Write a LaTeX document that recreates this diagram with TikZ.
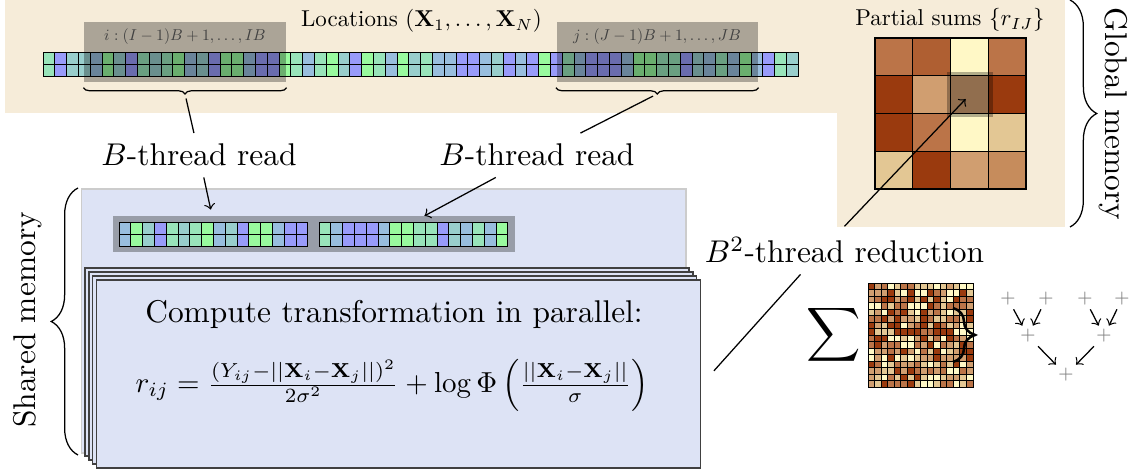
\documentclass[tikz,border=0pt]{standalone}
\usepackage{fix-cm}
\usepackage{amsmath}
\usepackage{amssymb}
\usetikzlibrary{arrows, decorations.pathreplacing, fit}

\definecolor{paper}{RGB}{246,236,217}
\definecolor{shmem}{RGB}{221,227,245}
\definecolor{framegrey}{RGB}{152,157,168}
\definecolor{cG}{RGB}{153,250,158}
\definecolor{cB}{RGB}{153,155,250}
\definecolor{cT}{RGB}{153,206,204}
\definecolor{cS}{RGB}{153,190,222}
\definecolor{cM}{RGB}{153,228,186}
\definecolor{cu1}{RGB}{255,248,198}
\definecolor{cu2}{RGB}{227,199,148}
\definecolor{cu3}{RGB}{208,158,112}
\definecolor{cu4}{RGB}{187,116,72}
\definecolor{cu5}{RGB}{154,58,14}
\definecolor{cu6}{RGB}{175,95,50}
\definecolor{cu7}{RGB}{198,140,92}

\def\locI{S,G,T,B,M,T,M,G,S,T,B,G,G,S,B,B}
\def\locJ{M,S,B,B,B,S,G,G,M,M,B,T,S,M,S,G}
\edef\loclist{M,B,T,T,\locI,G,M,S,M,G,T,B,G,M,S,G,T,M,S,S,B,B,S,T,B,S,B,G,B,\locJ,S,B,M,T}

\begin{document}
\begin{tikzpicture}[
    x = 1.118cm,
    y = 1.118cm,
    curly/.style = {decorate, decoration={brace, amplitude=#1}},
    curly/.default = 2pt,
    ]

    \tikzstyle{cell}=[draw=black, line width=0.3pt]
    \tikzstyle{hilite}=[fill=black, fill opacity=0.3, inner sep=0pt]
    \tikzstyle{smalltext}=[scale=0.73]
    \tikzstyle{blocklabel}=[scale=0.5, text=black!75]
    \tikzstyle{stackbox}=[draw=black!75, fill=shmem, line width=0.4pt]
    \tikzstyle{pl}=[font=\tiny, text=gray, inner sep=1pt]

    \useasboundingbox (0,0) rectangle (11.35,4.69);

    \fill[paper] (0.05,3.56) rectangle (8.37,4.69);
    \fill[paper] (8.37,2.42) rectangle (10.65,4.69);

    \foreach \c [count=\n from 0] in \loclist {
        \draw[cell, fill=c\c] ({0.43+0.118*\n},3.93) rectangle ++(0.118,0.12);
        \draw[cell, fill=c\c] ({0.43+0.118*\n},4.05) rectangle ++(0.118,0.12);
    }
    \node[smalltext, anchor=base] (loc) at (4.215,4.42) {Locations $(\mathbf{X}_1,\ldots,\mathbf{X}_N)$};

    \node[hilite, fit={(0.84,3.87) (2.86,4.47)}] (ibox) {};
    \node[hilite, fit={(5.565,3.87) (7.58,4.47)}] (jbox) {};
    \node[blocklabel] at (1.85,4.32) {$i:(I-1)B+1,\ldots,IB$};
    \node[blocklabel] at (6.57,4.32) {$j:(J-1)B+1,\ldots,JB$};

    \draw[curly] ([yshift=-1.6pt]ibox.south east) -- ([yshift=-1.6pt]ibox.south west)
        node[coordinate, midway, below=2pt] (iT) {};
    \draw[curly] ([yshift=-1.6pt]jbox.south east) -- ([yshift=-1.6pt]jbox.south west)
        node[coordinate, midway, below=2pt] (jT) {};

    \node[smalltext, anchor=base] (ps) at (9.50,4.43) {Partial sums $\{r_{IJ}\}$};
    \foreach \row/\cols in {0/{cu4,cu6,cu1,cu4}, 1/{cu5,cu3,cu3,cu5}, 2/{cu5,cu4,cu1,cu2}, 3/{cu2,cu5,cu3,cu7}}
        \foreach \c [count=\col from 0] in \cols
            \draw[cell, line width=0.4pt, fill=\c] ({8.75+0.3775*\col},{4.31-0.3775*\row}) rectangle ++(0.3775,-0.3775);
    \node[hilite, fit={(9.47,3.52) (9.93,3.97)}] (hl) {};

    \draw[curly=8.5pt] (10.70,4.69) -- (10.70,2.42);
    \node[rotate=-90] (glob) at (11.13,3.55) {Global memory};

    \node[anchor=base] (rI) at (1.99,3.03) {$B$-thread read};
    \node[anchor=base] (rJ) at (5.37,3.03) {$B$-thread read};

    \draw[draw=black!20, fill=shmem] (0.817,0.16) rectangle (6.86,2.80);
    \draw[curly=8.5pt] (0.78,0.14) -- (0.78,2.81);
    \node[rotate=90] (shm) at (0.28,1.49) {Shared memory};

    \node[fill=framegrey, inner sep=0pt, fit={(1.13,2.17) (5.15,2.53)}] (fr) {};
    \foreach \c [count=\n from 0] in \locI {
        \draw[cell, fill=c\c] ({1.19+0.118*\n},2.225) rectangle ++(0.118,0.12);
        \draw[cell, fill=c\c] ({1.19+0.118*\n},2.345) rectangle ++(0.118,0.12);
    }
    \foreach \c [count=\n from 0] in \locJ {
        \draw[cell, fill=c\c] ({3.19+0.118*\n},2.225) rectangle ++(0.118,0.12);
        \draw[cell, fill=c\c] ({3.19+0.118*\n},2.345) rectangle ++(0.118,0.12);
    }
    \node[inner sep=0pt, fit={(1.19,2.225) (3.078,2.465)}] (bI) {};
    \node[inner sep=0pt, fit={(3.19,2.225) (5.078,2.465)}] (bJ) {};

    \foreach \k in {0,1,2}
        \draw[stackbox] ({0.85+0.039*\k},{0.13-0.04*\k}) rectangle ++(6.04,1.88);
    \node[stackbox, inner sep=0pt, fit={(0.967,0.01) (7.007,1.89)}] (cmp) {};
    \node[anchor=base] (title) at (3.94,1.46) {Compute transformation in parallel:};
    \node[anchor=base, scale=0.92] (eq) at (3.92,0.765)
        {$r_{ij} = \frac{(Y_{ij}-||\mathbf{X}_i-\mathbf{X}_j||)^2}{2\sigma^2} + \log\Phi\left(\frac{||\mathbf{X}_i-\mathbf{X}_j||}{\sigma}\right)$};

    \node[anchor=base] (red) at (8.445,2.06) {$B^2$-thread reduction};
    \node[font=\large] (sum) at (8.34,1.34) {$\displaystyle\sum$};

    \pgfmathsetseed{7}
    \foreach \i in {0,...,15}
        \foreach \j in {0,...,15} {
            \pgfmathrandominteger{\k}{1}{5}
            \draw[line width=0.25pt, fill=cu\k] ({8.68+0.0656*\i},{0.82+0.065*\j}) rectangle ++(0.0656,0.065);
        }
    \draw[curly=7pt, thick] (9.53,1.61) -- (9.53,1.07);

    \node[pl] (t1) at (10.08,1.70) {$+$};
    \node[pl] (t2) at (10.46,1.70) {$+$};
    \node[pl] (t3) at (10.85,1.70) {$+$};
    \node[pl] (t4) at (11.22,1.70) {$+$};
    \node[pl] (m1) at (10.28,1.33) {$+$};
    \node[pl] (m2) at (11.04,1.33) {$+$};
    \node[pl] (b1) at (10.66,0.94) {$+$};

    \path[->] (t1) edge (m1);
    \path[->] (t2) edge (m1);
    \path[->] (t3) edge (m2);
    \path[->] (t4) edge (m2);
    \path[->] (m1) edge (b1);
    \path[->] (m2) edge (b1);

    \draw[shorten <=1.5pt] (iT) -- (rI);
    \draw[shorten <=1.5pt] (jT) -- (rJ);
    \draw[->, shorten >=4pt] (rI) -- (bI.north);
    \draw[->, shorten >=4pt] (rJ) -- (bJ.north);
    \draw[->, shorten >=2pt] (red.north) -- (hl.center);
    \draw ([xshift=4pt, yshift=1pt]cmp.east) -- ([xshift=-14pt]red.south);
\end{tikzpicture}
\end{document}
